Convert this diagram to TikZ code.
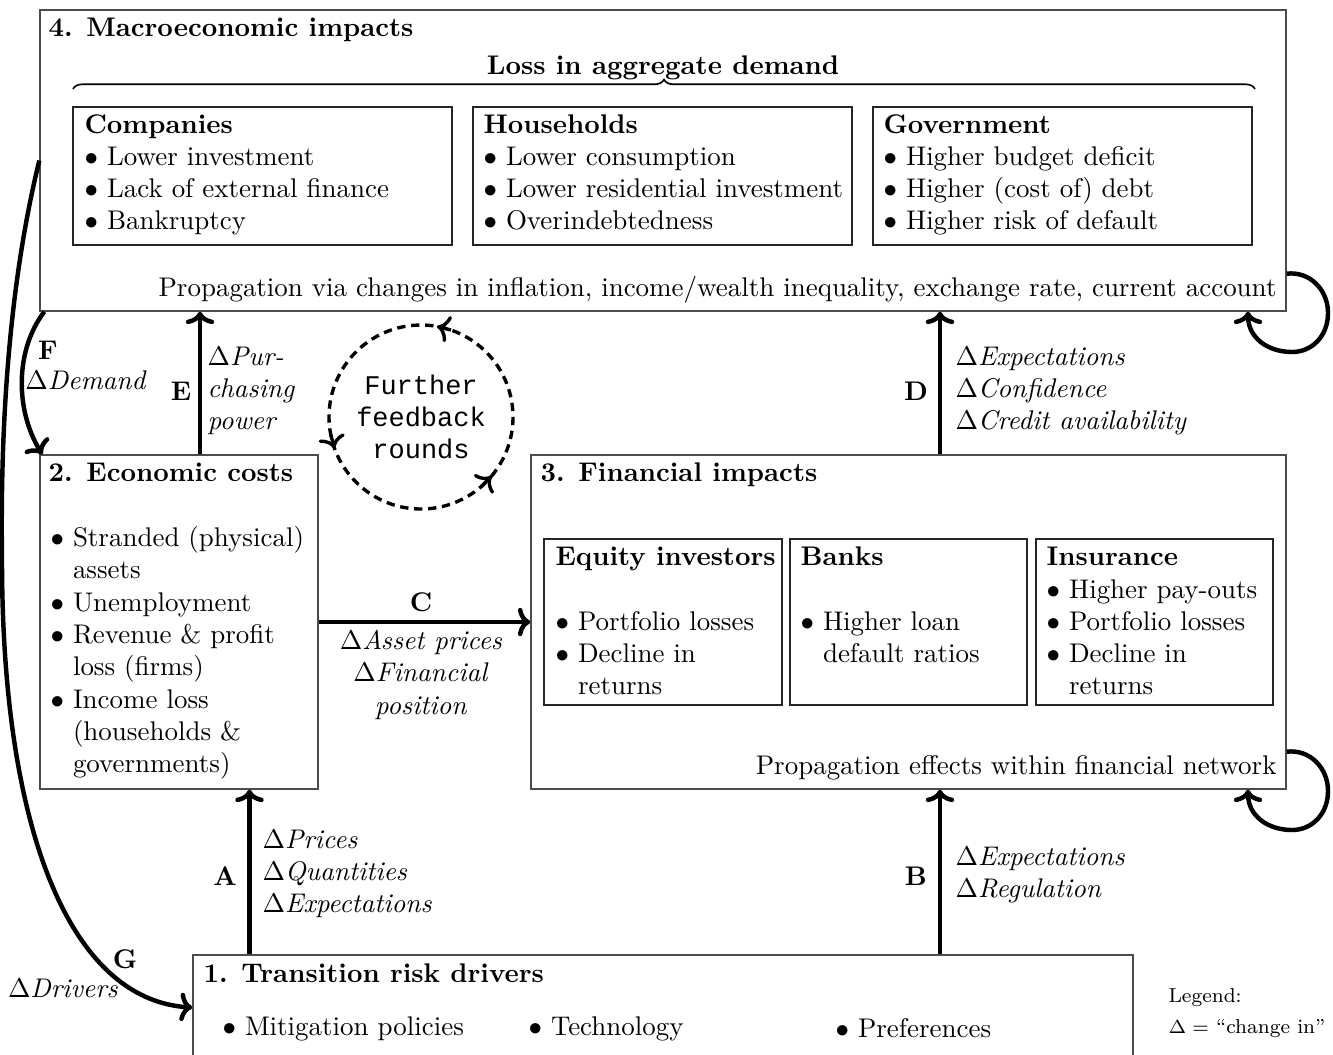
\documentclass[tikz,border=0pt]{standalone}
\usepackage{fontspec}
\newfontfamily\courierfont{Liberation Mono}
\usetikzlibrary{arrows.meta,decorations.pathreplacing,calc,fit}
\begin{document}
\begin{tikzpicture}[x=0.3708pt,y=-0.3708pt,
  box/.style={draw=black!70,line width=0.5pt,inner sep=0pt,fit={#1}},
  sbox/.style={draw=black!85,line width=0.5pt,inner sep=0pt,fit={#1}},
  t/.style={anchor=base west,inner sep=0pt},
  tc/.style={anchor=base,inner sep=0pt},
  te/.style={anchor=base east,inner sep=0pt},
  arr/.style={line width=1.65pt,-{Computer Modern Rightarrow[length=4.6pt,width=10.5pt]}},
  dsh/.style={line width=1.25pt,dash pattern=on 3.1pt off 2.1pt},
  dtip/.style={line width=1.25pt,-{Computer Modern Rightarrow[length=4.6pt,width=10pt]}},
  brc/.style={decorate,decoration={brace,amplitude=3.5pt},line width=0.6pt},
]
\clip (0,0) rectangle (1333,1054);

% ---------- boxes ----------
\node[box={(40,10) (1286,311)}] (b4) {};
\node[sbox={(73,107) (452,245)}] (comp) {};
\node[sbox={(473,107) (852,245)}] (hh) {};
\node[sbox={(873,107) (1252,245)}] (gov) {};
\node[box={(40,455) (318,789)}] (b2) {};
\node[box={(531,455) (1286,789)}] (b3) {};
\node[sbox={(544,539) (782,705)}] (eq) {};
\node[sbox={(790,539) (1027,705)}] (bank) {};
\node[sbox={(1036,539) (1273,705)}] (ins) {};
\node[box={(193,955) (1133,1060)}] (b1) {};

% ---------- box 4 text ----------
\node[t] (t4) at (48,36) {\textbf{4. Macroeconomic impacts}};
\node[tc] (loss) at (663,74) {\textbf{Loss in aggregate demand}};
\draw[brc] (73,89) -- (1255,89);
\node[t] (c0) at (84,133) {\textbf{Companies}};
\node[t] (c1) at (84,165) {$\bullet$ Lower investment};
\node[t] (c2) at (84,197) {$\bullet$ Lack of external finance};
\node[t] (c3) at (84,229) {$\bullet$ Bankruptcy};
\node[t] (h0) at (483,133) {\textbf{Households}};
\node[t] (h1) at (483,165) {$\bullet$ Lower consumption};
\node[t] (h2) at (483,197) {$\bullet$ Lower residential investment};
\node[t] (h3) at (483,229) {$\bullet$ Overindebtedness};
\node[t] (g0) at (883,133) {\textbf{Government}};
\node[t] (g1) at (883,165) {$\bullet$ Higher budget deficit};
\node[t] (g2) at (883,197) {$\bullet$ Higher (cost of) debt};
\node[t] (g3) at (883,229) {$\bullet$ Higher risk of default};
\node[te] (p4) at (1277,296) {Propagation via changes in inflation, income/wealth inequality, exchange rate, current account};

% ---------- box 2 text ----------
\node[t] (t2) at (48,481) {\textbf{2. Economic costs}};
\node[t] (e1) at (50,546) {$\bullet$ Stranded (physical)};
\node[t] (e2) at (50,578) {\hphantom{$\bullet$ }assets};
\node[t] (e3) at (50,611) {$\bullet$ Unemployment};
\node[t] (e4) at (50,643) {$\bullet$ Revenue \& profit};
\node[t] (e5) at (50,675) {\hphantom{$\bullet$ }loss (firms)};
\node[t] (e6) at (50,708) {$\bullet$ Income loss};
\node[t] (e7) at (50,740) {\hphantom{$\bullet$ }(households \&};
\node[t] (e8) at (50,772) {\hphantom{$\bullet$ }governments)};

% ---------- box 3 text ----------
\node[t] (t3) at (540,481) {\textbf{3. Financial impacts}};
\node[t] (q0) at (555,565) {\textbf{Equity investors}};
\node[t] (q1) at (555,630) {$\bullet$ Portfolio losses};
\node[t] (q2) at (555,662) {$\bullet$ Decline in};
\node[t] (q3) at (555,694) {\hphantom{$\bullet$ }returns};
\node[t] (k0) at (800,565) {\textbf{Banks}};
\node[t] (k1) at (800,630) {$\bullet$ Higher loan};
\node[t] (k2) at (800,662) {\hphantom{$\bullet$ }default ratios};
\node[t] (i0) at (1046,565) {\textbf{Insurance}};
\node[t] (i1) at (1046,598) {$\bullet$ Higher pay-outs};
\node[t] (i2) at (1046,630) {$\bullet$ Portfolio losses};
\node[t] (i3) at (1046,662) {$\bullet$ Decline in};
\node[t] (i4) at (1046,694) {\hphantom{$\bullet$ }returns};
\node[te] (p3) at (1277,774) {Propagation effects within financial network};

% ---------- box 1 text ----------
\node[t] (t1) at (203,982) {\textbf{1. Transition risk drivers}};
\node[t] (d1) at (222,1035) {$\bullet$ Mitigation policies};
\node[t] (d2) at (528,1035) {$\bullet$ Technology};
\node[t] (d3) at (835,1037) {$\bullet$ Preferences};

% ---------- legend ----------
\node[t,font=\fontsize{7.5}{9}\selectfont] (lg1) at (1168,1002) {Legend:};
\node[t,font=\fontsize{7.5}{9}\selectfont] (lg2) at (1168,1033) {$\Delta =$ ``change in''};

% ---------- straight arrows ----------
\coordinate (ax) at (249.5,0);
\coordinate (bx) at (940,0);
\coordinate (ex) at (200,0);
\coordinate (cy) at (0,622);
\draw[arr] (ax |- b1.north) -- (ax |- b2.south);
\draw[arr] (bx |- b1.north) -- (bx |- b3.south);
\draw[arr] (b2.east |- cy) -- (b3.west |- cy);
\draw[arr] (bx |- b3.north) -- (bx |- b4.south);
\draw[arr] (ex |- b2.north) -- (ex |- b4.south);

% labels A
\node[tc] (la) at (225,885) {\textbf{A}};
\node[t] (la1) at (262,848) {$\Delta$\textit{Prices}};
\node[t] (la2) at (262,880) {$\Delta$\textit{Quantities}};
\node[t] (la3) at (262,912) {$\Delta$\textit{Expectations}};
% labels B
\node[tc] (lb) at (916,885) {\textbf{B}};
\node[t] (lb1) at (955,865) {$\Delta$\textit{Expectations}};
\node[t] (lb2) at (955,897) {$\Delta$\textit{Regulation}};
% labels C
\node[tc] (lc) at (421,611) {\textbf{C}};
\node[tc] (lc1) at (421,649) {$\Delta$\textit{Asset prices}};
\node[tc] (lc2) at (421,681) {$\Delta$\textit{Financial}};
\node[tc] (lc3) at (421,714) {\textit{position}};
% labels D
\node[tc] (ld) at (916,400) {\textbf{D}};
\node[t] (ld1) at (955,365) {$\Delta$\textit{Expectations}};
\node[t] (ld2) at (955,397) {$\Delta$\textit{Confidence}};
\node[t] (ld3) at (955,429) {$\Delta$\textit{Credit availability}};
% labels E
\node[tc] (le) at (181,400) {\textbf{E}};
\node[t] (le1) at (207,365) {$\Delta$\textit{Pur-}};
\node[t] (le2) at (207,397) {\textit{chasing}};
\node[t] (le3) at (207,429) {\textit{power}};

% ---------- curved arrows F, G ----------
\draw[arr] ($(b4.south west)+(5,0)$) .. controls (15,350) and (15,410) .. ($(b2.north west)+(3,0)$);
\node[tc] (lf) at (48,359) {\textbf{F}};
\node[tc] (lf1) at (86,389) {$\Delta$\textit{Demand}};
\draw[arr] (b4.west) .. controls (10,280) and (0,420) .. (2,560)
  .. controls (2,830) and (70,1000) .. (b1.west);
\node[tc] (lg) at (125,968) {\textbf{G}};
\node[tc] (lg0) at (63,997) {$\Delta$\textit{Drivers}};

% ---------- self loops ----------
\coordinate (lx) at (1248,0);
\draw[arr] ($(b4.south east)+(0,-38)$) .. controls (1310,271) and (1328,290) .. (1328,313)
  .. controls (1328,336) and (1312,352) .. (1292,352)
  .. controls (1268,352) and (1248,338) .. (lx |- b4.south);
\draw[arr] ($(b3.south east)+(0,-38)$) .. controls (1310,749) and (1328,768) .. (1328,791)
  .. controls (1328,814) and (1312,830) .. (1292,830)
  .. controls (1268,830) and (1248,816) .. (lx |- b3.south);

% ---------- feedback circle ----------
\coordinate (fb) at (421,417);
\draw[dsh] ($(fb)+(40:92)$) arc[start angle=40,end angle=-320,radius=92];
\draw[dtip] ($(fb)+(-71:92)$) -- ($(fb)+(-80:92)$);
\draw[dtip] ($(fb)+(-191:92)$) -- ($(fb)+(-200:92)$);
\draw[dtip] ($(fb)+(-311:92)$) -- ($(fb)+(-320:92)$);
\node[tc,font=\courierfont] (fb1) at (421,394) {Further};
\node[tc,font=\courierfont] (fb2) at (421,426) {feedback};
\node[tc,font=\courierfont] (fb3) at (421,458) {rounds};
\end{tikzpicture}
\end{document}
